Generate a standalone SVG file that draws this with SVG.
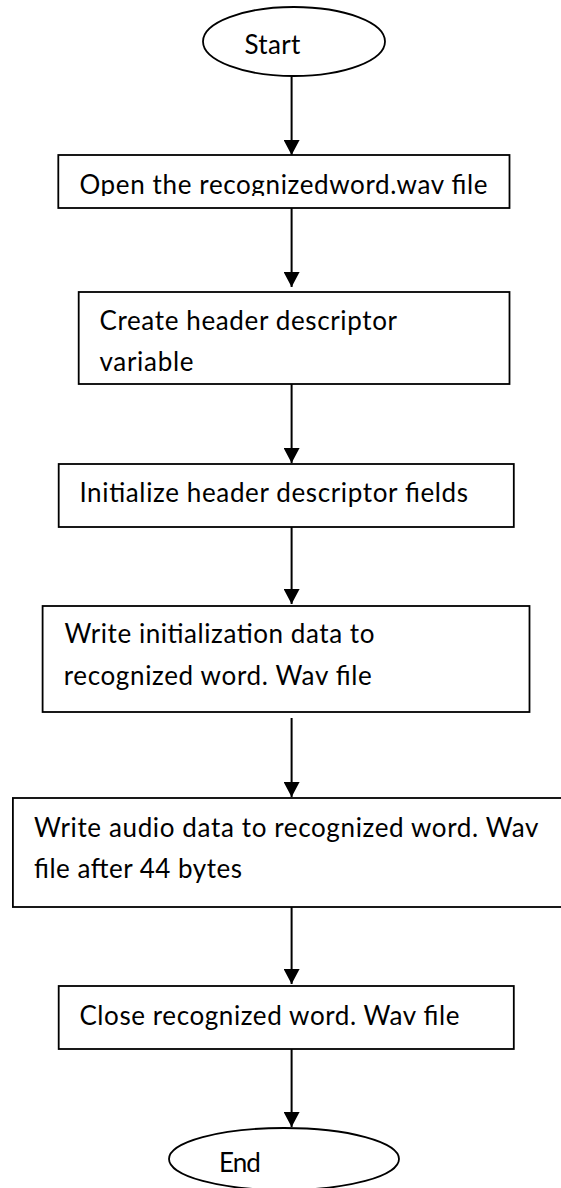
<svg xmlns="http://www.w3.org/2000/svg" width="561" height="1188" viewBox="0 0 561 1188">
  <style>
    .shape { fill: #ffffff; stroke: #000000; stroke-width: 1.8; }
    .label { font-family: Lato, "Open Sans", "Liberation Sans", sans-serif; font-size: 26px; fill: #000000; }
    .conn { stroke: #000000; stroke-width: 2; fill: none; marker-end: url(#arrow); }
  </style>
  <defs>
    <marker id="arrow" markerUnits="userSpaceOnUse" viewBox="0 0 15 16" markerWidth="15" markerHeight="16" refX="15" refY="8" orient="auto">
      <path d="M0,0 L15,8 L0,16 Z" fill="#000000"/>
    </marker>
    <!-- the first text box crops the descenders of its line -->
    <clipPath id="open-clip">
      <rect x="58" y="155" width="452" height="41"/>
    </clipPath>
  </defs>
  <rect width="561" height="1188" fill="#ffffff"/>

  <g id="connectors">
    <path class="conn" d="M291.6,76 V155"/>
    <path class="conn" d="M291.6,208 V287"/>
    <path class="conn" d="M291.6,384 V463"/>
    <path class="conn" d="M291.6,527 V604"/>
    <path class="conn" d="M291.6,718 V797"/>
    <path class="conn" d="M291.6,907 V984"/>
    <path class="conn" d="M291.6,1049 V1127"/>
  </g>

  <g id="start">
    <ellipse class="shape" cx="294" cy="41.5" rx="91" ry="34.5"/>
    <text class="label" x="244.4" y="54" textLength="56" lengthAdjust="spacing">Start</text>
  </g>

  <g id="open-file">
    <rect class="shape" x="58.3" y="155" width="451.2" height="53"/>
    <text class="label" x="79.4" y="194" textLength="408" lengthAdjust="spacing" clip-path="url(#open-clip)">Open the recognizedword.wav file</text>
  </g>

  <g id="create-header">
    <rect class="shape" x="78.7" y="292" width="430.8" height="92"/>
    <text class="label" x="99.5" y="330" textLength="297.5" lengthAdjust="spacing">Create header descriptor</text>
    <text class="label" x="99.5" y="371" textLength="94" lengthAdjust="spacing">variable</text>
  </g>

  <g id="init-header">
    <rect class="shape" x="58.7" y="464" width="455.1" height="63"/>
    <text class="label" x="79.4" y="502" textLength="388.6" lengthAdjust="spacing">Initialize header descriptor fields</text>
  </g>

  <g id="write-init">
    <rect class="shape" x="42.6" y="606" width="486.9" height="106"/>
    <text class="label" x="64.4" y="643" textLength="310" lengthAdjust="spacing">Write initialization data to</text>
    <text class="label" x="63.7" y="685" textLength="308" lengthAdjust="spacing">recognized word. Wav file</text>
  </g>

  <g id="write-audio">
    <rect class="shape" x="12.9" y="798" width="560" height="109"/>
    <text class="label" x="34" y="837" textLength="504.5" lengthAdjust="spacing">Write audio data to recognized word. Wav</text>
    <text class="label" x="34" y="878" textLength="208" lengthAdjust="spacing">file after 44 bytes</text>
  </g>

  <g id="close-file">
    <rect class="shape" x="58.7" y="986" width="455.1" height="63"/>
    <text class="label" x="79.4" y="1025" textLength="380" lengthAdjust="spacing">Close recognized word. Wav file</text>
  </g>

  <g id="end">
    <ellipse class="shape" cx="284" cy="1159" rx="115" ry="31"/>
    <text class="label" x="219" y="1172" textLength="41.7" lengthAdjust="spacing">End</text>
  </g>
</svg>
